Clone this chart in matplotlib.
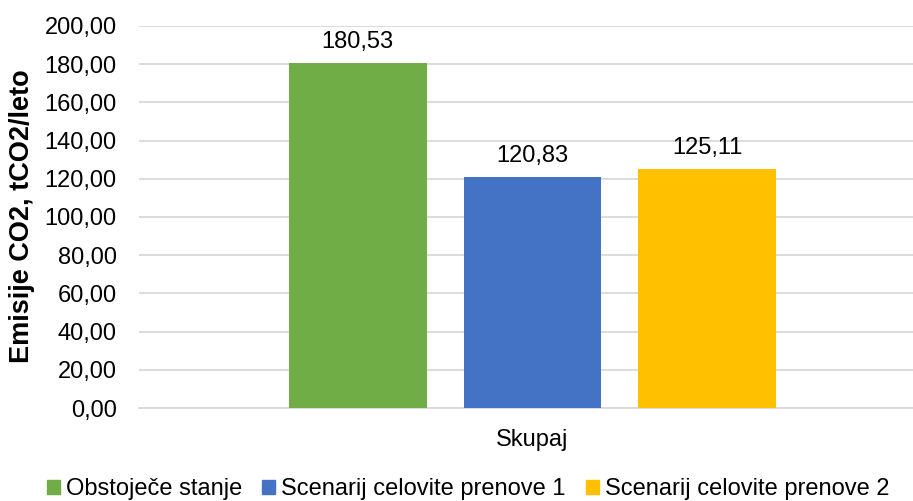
import matplotlib
matplotlib.use("Agg")
import matplotlib.pyplot as plt
from matplotlib.ticker import FuncFormatter
from matplotlib.patches import Patch

plt.rcParams['font.family'] = ['Liberation Sans', 'DejaVu Sans']

category = "Skupaj"
series = ["Obstoječe stanje", "Scenarij celovite prenove 1", "Scenarij celovite prenove 2"]
values = [180.53, 120.83, 125.11]
colors = ["#70AD47", "#4472C4", "#FFC000"]
y_ticks = [0, 20, 40, 60, 80, 100, 120, 140, 160, 180, 200]

W, H = 913, 501
fig = plt.figure(figsize=(W / 100, H / 100), dpi=100)
# plot area in pixels: left 139, right 926, top 26, bottom 408
ax = fig.add_axes([139 / W, 1 - 408 / H, (926 - 139) / W, (408 - 26) / H])

comma = lambda v: f"{v:.2f}".replace(".", ",")
fs = 17

width = 0.1753
offsets = [-0.222, 0.0, 0.222]
for off, val, col in zip(offsets, values, colors):
    ax.bar(off, val, width=width, color=col, zorder=3)
    ax.annotate(comma(val), (off, val), xytext=(0, 11), textcoords="offset points",
                ha="center", va="baseline", fontsize=fs, color="#000000")

ax.set_xlim(-0.5, 0.5)
ax.set_ylim(0, 200)
ax.set_yticks(y_ticks)
ax.yaxis.set_major_formatter(FuncFormatter(lambda v, p: comma(v)))
ax.set_xticks([0])
ax.set_xticklabels([category])
ax.tick_params(axis="both", length=0, labelsize=fs, colors="#000000")
ax.tick_params(axis="x", pad=15)
ax.tick_params(axis="y", pad=16)
ax.grid(axis="y", color="#D9D9D9", linewidth=1.3, zorder=0)
for s in ["top", "right", "left"]:
    ax.spines[s].set_visible(False)
ax.spines["bottom"].set_color("#D9D9D9")
ax.spines["bottom"].set_linewidth(1.3)

fig.text(22 / W, 1 - 216 / H, "Emisije CO2, tCO2/leto", rotation=90,
         ha="center", va="center", fontsize=19.5, fontweight="bold")

handles = [Patch(color=c, label=s) for s, c in zip(series, colors)]
fig.legend(handles=handles, loc="center", bbox_to_anchor=(468 / W, 1 - 489 / H),
           ncol=3, frameon=False, fontsize=fs, handlelength=0.55, handleheight=0.55,
           handletextpad=0.25, columnspacing=0.85, borderpad=0, borderaxespad=0)

fig.savefig("out.png", dpi=100)
